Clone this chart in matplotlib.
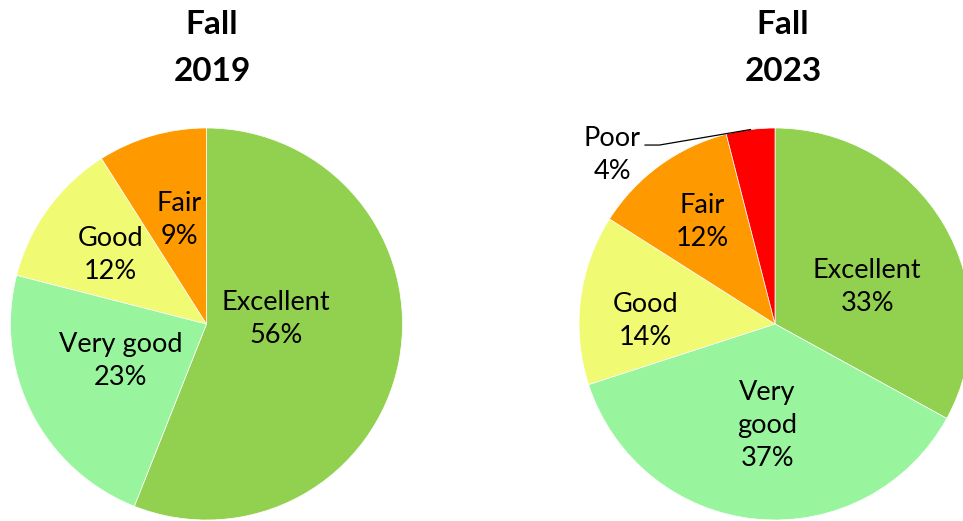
import numpy as np
import matplotlib
matplotlib.use("Agg")
import matplotlib.pyplot as plt

plt.rcParams['font.family'] = ['Lato', 'DejaVu Sans']

# data
categories_2019 = ["Excellent", "Very good", "Good", "Fair"]
values_2019 = [56, 23, 12, 9]
categories_2023 = ["Excellent", "Very good", "Good", "Fair", "Poor"]
values_2023 = [33, 37, 14, 12, 4]
titles = ["Fall\n2019", "Fall\n2023"]

colors = {"Excellent": "#92D050", "Very good": "#99F59D", "Good": "#F0FA72",
          "Fair": "#FF9900", "Poor": "#FF0000"}

# label placement (pie units, radius = 1)
label_pos_2019 = [(0.355, 0.026), (-0.44, -0.19), (-0.49, 0.35), (-0.14, 0.53)]
label_pos_2023 = [(0.47, 0.19), (-0.04, -0.52), (-0.66, 0.015), (-0.37, 0.52), (-0.83, 0.86)]
label_text_2023 = ["Excellent", "Very\ngood", "Good", "Fair", "Poor"]

W, H = 963, 521
fig = plt.figure(figsize=(W / 100, H / 100), dpi=100)
R = 196


def make_ax(cx, cy):
    return fig.add_axes([(cx - R) / W, (H - cy - R) / H, 2 * R / W, 2 * R / H])


def draw_pie(ax, cats, vals, texts, positions):
    wedges, _ = ax.pie(vals, colors=[colors[c] for c in cats], startangle=90,
                       counterclock=False, radius=1,
                       wedgeprops=dict(edgecolor="white", linewidth=0.5))
    ax.set_xlim(-1, 1)
    ax.set_ylim(-1, 1)
    ax.set_aspect("equal")
    ax.axis("off")
    for t, v, (x, y) in zip(texts, vals, positions):
        ax.text(x, y, f"{t}\n{v}%", ha="center", va="center", fontsize=19.5,
                color="black", linespacing=1.4)
    return wedges


ax1 = make_ax(206.5, 324)
draw_pie(ax1, categories_2019, values_2019, categories_2019, label_pos_2019)
ax2 = make_ax(775, 324)
wedges2 = draw_pie(ax2, categories_2023, values_2023, label_text_2023, label_pos_2023)

# leader line for the small Poor slice
w = wedges2[-1]
mid = np.deg2rad((w.theta1 + w.theta2) / 2)
xw, yw = np.cos(mid), np.sin(mid)
ax2.plot([-0.663, -0.59, xw], [0.913, 0.913, yw], color="black", lw=0.9,
         clip_on=False)

fig.text(212 / W, 1 - 48 / H, titles[0], ha="center", va="center",
         fontsize=24, fontweight="bold", linespacing=1.75)
fig.text(783 / W, 1 - 48 / H, titles[1], ha="center", va="center",
         fontsize=24, fontweight="bold", linespacing=1.75)

fig.savefig("out.png", dpi=100, facecolor="white")
